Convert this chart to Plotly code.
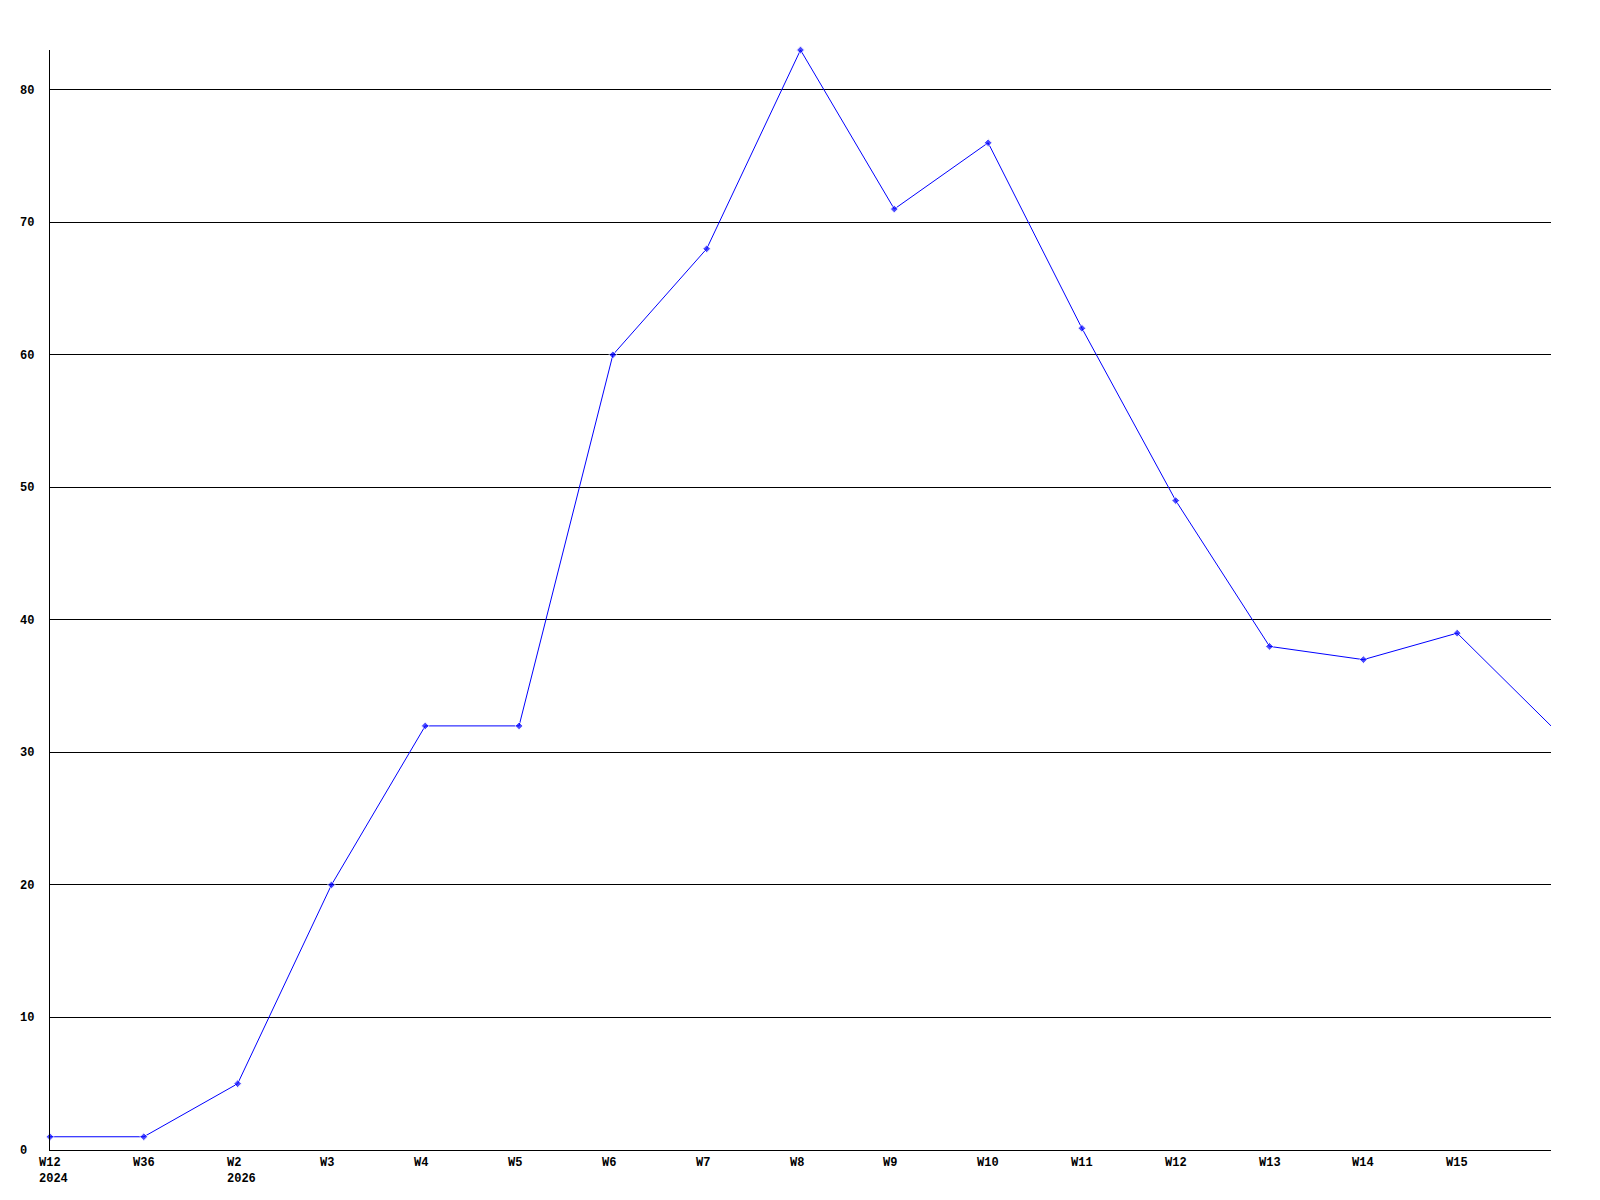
import plotly.graph_objects as go

# weekly counts
week_labels = ["W12<br>2024", "W36", "W2<br>2026", "W3", "W4", "W5", "W6", "W7",
               "W8", "W9", "W10", "W11", "W12", "W13", "W14", "W15"]
counts = [1, 1, 5, 20, 32, 32, 60, 68, 83, 71, 76, 62, 49, 38, 37, 39, 32]
y_ticks = [0, 10, 20, 30, 40, 50, 60, 70, 80]

font = dict(family="Liberation Mono, DejaVu Sans Mono, monospace", size=12, color="black")
xs = list(range(len(counts)))

fig = go.Figure()
fig.add_trace(go.Scatter(
    x=xs, y=counts, mode="lines+markers",
    line=dict(color="#0000ff", width=1),
    marker=dict(symbol="diamond", color="#0000ff",
                size=[6] * (len(counts) - 1) + [0]),
    cliponaxis=False,
    hoverinfo="x+y",
))

# x labels start at their tick, like the original
for i, lab in enumerate(week_labels):
    fig.add_annotation(x=i, y=0, xref="x", yref="paper", text="<b>" + lab + "</b>",
                       showarrow=False, xanchor="left", yanchor="top", align="left",
                       xshift=-13, yshift=-4, font=font)

for v in y_ticks:
    fig.add_annotation(x=0, y=v, xref="paper", yref="y", text="<b>" + str(v) + "</b>",
                       showarrow=False, xanchor="left", yanchor="middle", align="left",
                       xshift=-32, yshift=-1, font=font)

fig.update_layout(
    width=1584, height=1184,
    margin=dict(l=42, r=41, t=42, b=42),
    plot_bgcolor="white", paper_bgcolor="white",
    showlegend=False,
    xaxis=dict(range=[0, len(counts) - 1], showgrid=False, zeroline=False,
               showticklabels=False, showline=True, linecolor="black", linewidth=1),
    yaxis=dict(range=[0, 83], tickvals=y_ticks, showticklabels=False,
               showgrid=True, gridcolor="black", gridwidth=1, zeroline=False,
               showline=True, linecolor="black", linewidth=1),
)

fig.write_html("out.html")
